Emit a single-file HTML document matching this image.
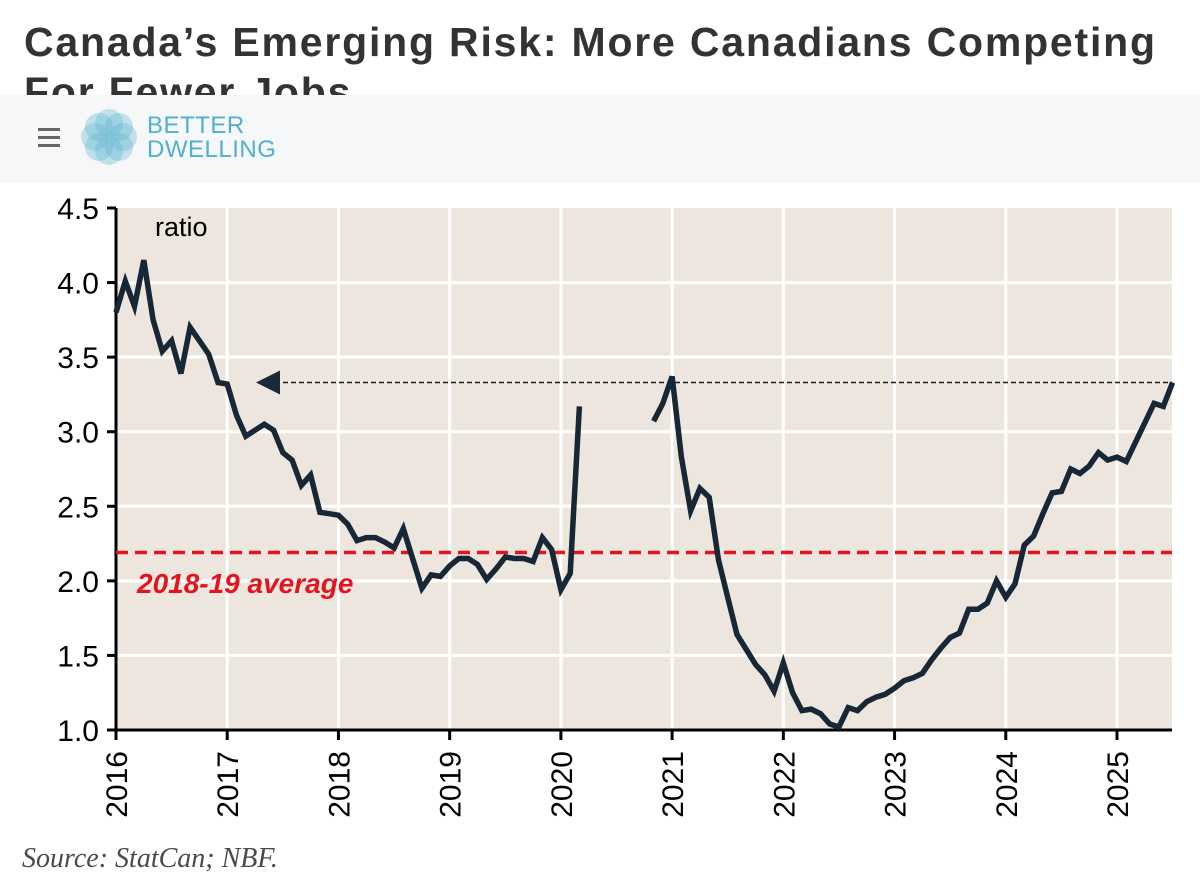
<!DOCTYPE html>
<html><head><meta charset="utf-8"><style>
body{margin:0;width:1200px;height:885px;background:#fff;overflow:hidden;position:relative;font-family:"Liberation Sans",sans-serif}
#title{position:absolute;left:24px;top:17px;font-size:41px;font-weight:bold;color:#333;line-height:50px;margin:0;width:1150px;letter-spacing:1.8px}
#hdr{position:absolute;left:0;top:95px;width:1200px;height:88px;background:#f6f7f8}
svg{position:absolute;left:0;top:0}
</style></head><body>
<h1 id="title">Canada’s Emerging Risk: More Canadians Competing For Fewer Jobs</h1>
<div id="hdr">
<div style="position:absolute;left:38px;top:33px;width:22px">
<div style="height:3px;background:#666;margin-bottom:5px"></div><div style="height:3px;background:#666;margin-bottom:5px"></div><div style="height:3px;background:#666"></div></div>
<svg width="60" height="60" style="left:79px;top:12px">
<g fill="#5fb4d2" fill-opacity="0.35"><circle cx="30" cy="16" r="14"/><circle cx="44" cy="30" r="14"/><circle cx="30" cy="44" r="14"/><circle cx="16" cy="30" r="14"/><circle cx="20" cy="20" r="14"/><circle cx="40" cy="20" r="14"/><circle cx="40" cy="40" r="14"/><circle cx="20" cy="40" r="14"/></g></svg>
<div style="position:absolute;left:147px;top:19px;color:#4fb0cf;font-size:24px;line-height:24px;letter-spacing:0.5px">BETTER<br>DWELLING</div>
</div>
<svg id="chart" width="1200" height="885" style="top:0"></svg>
<div style="position:absolute;left:22px;top:843px;font-family:'Liberation Serif',serif;font-style:italic;font-size:28px;color:#4a4a4a">Source: StatCan; NBF.</div>
<script>
const years=[2016,2017,2018,2019,2020,2021,2022,2023,2024,2025];
const yTicks=[1.0,1.5,2.0,2.5,3.0,3.5,4.0,4.5];
const seg1=[3.80,4.01,3.84,4.15,3.75,3.54,3.61,3.39,3.70,3.61,3.52,3.33,3.32,3.11,2.97,3.01,3.05,3.01,2.86,2.81,2.64,2.71,2.46,2.45,2.44,2.38,2.27,2.29,2.29,2.26,2.22,2.35,2.15,1.95,2.04,2.03,2.10,2.15,2.15,2.11,2.01,2.08,2.16,2.15,2.15,2.13,2.29,2.21,1.94,2.05,3.17];
const seg2=[3.07,3.19,3.37,2.83,2.47,2.62,2.56,2.14,1.89,1.64,1.54,1.44,1.37,1.26,1.45,1.25,1.13,1.14,1.11,1.04,1.02,1.15,1.13,1.19,1.22,1.24,1.28,1.33,1.35,1.38,1.47,1.55,1.62,1.65,1.81,1.81,1.85,2.00,1.89,1.98,2.24,2.30,2.45,2.59,2.60,2.75,2.72,2.77,2.86,2.81,2.83,2.80,2.93,3.06,3.19,3.17,3.33];
const seg2Start=58;
const avgValue=2.19;
const refValue=3.33;
const L=116,R=1172,T=208,B=730;
const X=m=>L+m*(1117-116)/108;
const Y=v=>B-(v-1.0)*(B-T)/3.5;
const NS='http://www.w3.org/2000/svg';
const svg=document.getElementById('chart');
function mk(t,a,p){const e=document.createElementNS(NS,t);for(const k in a)e.setAttribute(k,a[k]);(p||svg).appendChild(e);return e;}
let e=mk('rect',{x:L,y:T,width:R-L,height:B-T,fill:'#ede6de'});


yTicks.forEach(v=>{
 if(v>1.0&&v<4.5){const g=mk('line',{x1:L,x2:R,y1:Y(v),y2:Y(v),stroke:'#fff','stroke-width':3});
 
 }
 const t=mk('line',{x1:L-9,x2:L,y1:Y(v),y2:Y(v),stroke:'#000','stroke-width':3});
 
 
 const l=mk('text',{x:L-17,y:Y(v)+11,'text-anchor':'end','font-size':30,fill:'#000'});
 l.textContent=v.toFixed(1);
 
 
});
years.forEach((yr,i)=>{
 const x=X(i*12);
 if(i>0){const g=mk('line',{x1:x,x2:x,y1:T,y2:B,stroke:'#fff','stroke-width':3});
 
 }
 const t=mk('line',{x1:x,x2:x,y1:B,y2:B+10,stroke:'#000','stroke-width':3});
 
 
 const l=mk('text',{x:0,y:0,'text-anchor':'end','font-size':30,fill:'#000',transform:`translate(${x+11},${B+21}) rotate(-90)`});
 l.textContent=yr;
 
 
});
e=mk('line',{x1:L,x2:L,y1:T,y2:B,stroke:'#000','stroke-width':3});


e=mk('line',{x1:L,x2:R,y1:B,y2:B,stroke:'#000','stroke-width':3});


e=mk('line',{x1:L,x2:R,y1:Y(avgValue),y2:Y(avgValue),stroke:'#e3141d','stroke-width':3.5,'stroke-dasharray':'12 7'});


e=mk('text',{x:137,y:593,'font-size':28,'font-weight':'bold','font-style':'italic',fill:'#e3141d'});
e.textContent='2018-19 average';


e=mk('line',{x1:275,x2:R,y1:Y(refValue),y2:Y(refValue),stroke:'#1a1a1a','stroke-width':1.5,'stroke-dasharray':'5 3'});


e=mk('polygon',{points:`256,${Y(refValue)} 280,${Y(refValue)-12} 280,${Y(refValue)+12}`,fill:'#1a2a38'});


function line(arr,start,name){
 const d=arr.map((v,i)=>(i?'L':'M')+X(start+i).toFixed(1)+','+Y(v).toFixed(1)).join('');
 const p=mk('path',{d:d,fill:'none',stroke:'#172736','stroke-width':5.5,'stroke-linejoin':'miter'});
 
 
}
line(seg1,0,'ratio-line-2016-2020');
line(seg2,seg2Start,'ratio-line-2020-2025');
e=mk('text',{x:155,y:236,'font-size':27,fill:'#000'});
e.textContent='ratio';


</script>
</body></html>
